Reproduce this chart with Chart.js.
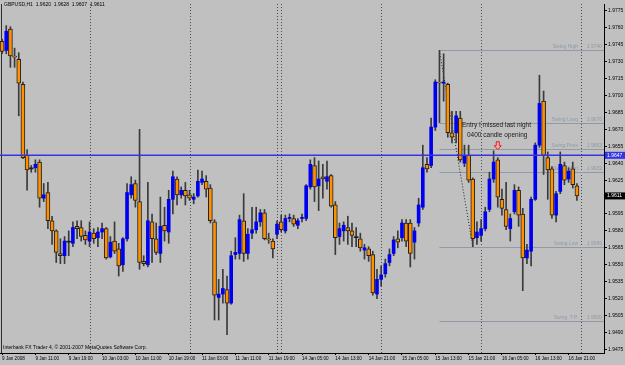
<!DOCTYPE html>
<html>
<head>
<meta charset="utf-8">
<script src="https://cdn.jsdelivr.net/npm/chart.js@4.4.1/dist/chart.umd.min.js"></script>
<style>
html,body{margin:0;padding:0;background:#c0c0c0;}
canvas{display:block;background:#c0c0c0;}
</style>
</head>
<body>
<canvas id="c" width="625" height="365"></canvas>
<script>
// ---- data (GBPUSD H1, 9 Jan 2008 03:00 -> 16 Jan 2008 23:00) ----
const opens = [1.9748,1.9740,1.9759,1.9735,1.9732,1.9710,1.9647,1.9635,1.9636,1.9641,
1.9609,1.9614,1.9589,1.9580,1.9560,1.9558,1.9570,1.9569,1.9584,1.9583,
1.9576,1.9571,1.9578,1.9574,1.9579,1.9582,1.9557,1.9571,1.9564,1.9550,
1.9573,1.9612,1.9622,1.9606,1.9553,1.9550,1.9588,1.9573,1.9560,1.9585,
1.9579,1.9608,1.9626,1.9612,1.9616,1.9612,1.9608,1.9611,1.9623,1.9624,
1.9618,1.9588,1.9521,1.9524,1.9528,1.9516,1.9559,1.9560,1.9589,1.9560,
1.9578,1.9581,1.9588,1.9596,1.9573,1.9571,1.9577,1.9588,1.9580,1.9591,
1.9591,1.9585,1.9591,1.9591,1.9619,1.9638,1.9620,1.9628,1.9624,1.9629,
1.9603,1.9575,1.9580,1.9583,1.9580,1.9574,1.9573,1.9563,1.9564,1.9559,
1.9524,1.9537,1.9542,1.9552,1.9560,1.9573,1.9574,1.9587,1.9587,1.9570,
1.9587,1.9601,1.9639,1.9638,1.9672,1.9712,1.9711,1.9710,1.9667,1.9667,
1.9680,1.9640,1.9647,1.9626,1.9574,1.9576,1.9582,1.9599,1.9626,1.9643,
1.9608,1.9599,1.9582,1.9597,1.9616,1.9595,1.9556,1.9562,1.9608,1.9656,
1.9695,1.9645,1.9635,1.9594,1.9615,1.9638,1.9626,1.9635,1.9620];
const highs = [1.9750,1.9762,1.9761,1.9742,1.9738,1.9712,1.9652,1.9638,1.9643,1.9643,
1.9622,1.9623,1.9593,1.9581,1.9573,1.9575,1.9580,1.9588,1.9589,1.9589,
1.9580,1.9588,1.9582,1.9583,1.9587,1.9583,1.9575,1.9588,1.9569,1.9574,
1.9622,1.9628,1.9625,1.9670,1.9558,1.9623,1.9595,1.9587,1.9610,1.9601,
1.9616,1.9633,1.9628,1.9619,1.9623,1.9616,1.9613,1.9634,1.9633,1.9629,
1.9621,1.9590,1.9537,1.9546,1.9540,1.9562,1.9574,1.9594,1.9613,1.9582,
1.9601,1.9601,1.9599,1.9599,1.9578,1.9573,1.9589,1.9594,1.9594,1.9595,
1.9594,1.9591,1.9595,1.9621,1.9643,1.9645,1.9642,1.9639,1.9642,1.9630,
1.9606,1.9587,1.9588,1.9593,1.9587,1.9583,1.9578,1.9568,1.9566,1.9562,
1.9546,1.9549,1.9555,1.9564,1.9575,1.9580,1.9590,1.9590,1.9590,1.9583,
1.9609,1.9656,1.9645,1.9680,1.9714,1.9740,1.9737,1.9711,1.9686,1.9686,
1.9686,1.9656,1.9656,1.9627,1.9588,1.9590,1.9601,1.9632,1.9651,1.9645,
1.9617,1.9623,1.9595,1.9621,1.9619,1.9600,1.9568,1.9610,1.9658,1.9718,
1.9704,1.9650,1.9637,1.9615,1.9650,1.9641,1.9636,1.9641,1.9622];
const lows = [1.9737,1.9737,1.9725,1.9725,1.9682,1.9644,1.9616,1.9632,1.9632,1.9601,
1.9606,1.9582,1.9568,1.9552,1.9551,1.9551,1.9558,1.9566,1.9573,1.9571,
1.9568,1.9566,1.9569,1.9566,1.9573,1.9555,1.9556,1.9560,1.9540,1.9544,
1.9571,1.9609,1.9601,1.9546,1.9549,1.9548,1.9552,1.9559,1.9552,1.9571,
1.9569,1.9595,1.9603,1.9609,1.9603,1.9607,1.9604,1.9610,1.9621,1.9610,
1.9587,1.9501,1.9501,1.9516,1.9488,1.9515,1.9555,1.9555,1.9553,1.9555,
1.9573,1.9578,1.9584,1.9572,1.9569,1.9556,1.9573,1.9579,1.9578,1.9588,
1.9584,1.9582,1.9588,1.9589,1.9617,1.9606,1.9598,1.9609,1.9617,1.9601,
1.9559,1.9568,1.9571,1.9568,1.9566,1.9566,1.9562,1.9555,1.9553,1.9523,
1.9520,1.9531,1.9539,1.9549,1.9558,1.9565,1.9571,1.9566,1.9548,1.9555,
1.9584,1.9599,1.9632,1.9636,1.9669,1.9676,1.9695,1.9663,1.9658,1.9658,
1.9641,1.9637,1.9623,1.9566,1.9568,1.9571,1.9580,1.9597,1.9623,1.9601,
1.9594,1.9581,1.9571,1.9595,1.9584,1.9527,1.9551,1.9549,1.9607,1.9654,
1.9630,1.9608,1.9591,1.9588,1.9613,1.9621,1.9623,1.9618,1.9607];
const closes = [1.9739,1.9757,1.9735,1.9734,1.9711,1.9645,1.9634,1.9635,1.9639,1.9609,
1.9612,1.9589,1.9580,1.9561,1.9558,1.9571,1.9570,1.9583,1.9582,1.9575,
1.9572,1.9579,1.9573,1.9579,1.9582,1.9556,1.9570,1.9562,1.9549,1.9573,
1.9614,1.9621,1.9607,1.9552,1.9551,1.9589,1.9573,1.9561,1.9584,1.9580,
1.9608,1.9628,1.9612,1.9616,1.9611,1.9609,1.9610,1.9624,1.9626,1.9617,
1.9589,1.9523,1.9524,1.9529,1.9516,1.9558,1.9561,1.9590,1.9560,1.9577,
1.9581,1.9588,1.9596,1.9573,1.9572,1.9564,1.9586,1.9581,1.9591,1.9592,
1.9586,1.9589,1.9592,1.9620,1.9639,1.9619,1.9626,1.9626,1.9628,1.9602,
1.9574,1.9582,1.9585,1.9580,1.9576,1.9574,1.9565,1.9565,1.9558,1.9525,
1.9537,1.9541,1.9551,1.9559,1.9572,1.9570,1.9587,1.9571,1.9560,1.9580,
1.9603,1.9636,1.9635,1.9672,1.9712,1.9711,1.9712,1.9667,1.9663,1.9682,
1.9643,1.9647,1.9625,1.9573,1.9579,1.9582,1.9597,1.9626,1.9641,1.9610,
1.9600,1.9584,1.9591,1.9616,1.9594,1.9556,1.9563,1.9608,1.9656,1.9693,
1.9647,1.9634,1.9594,1.9613,1.9639,1.9625,1.9633,1.9621,1.9611];

const timeLabels = ["9 Jan 2008","9 Jan 11:00","9 Jan 19:00","10 Jan 03:00","10 Jan 11:00","10 Jan 19:00",
"11 Jan 03:00","11 Jan 11:00","11 Jan 19:00","14 Jan 05:00","14 Jan 13:00","14 Jan 21:00",
"15 Jan 05:00","15 Jan 13:00","15 Jan 21:00","16 Jan 05:00","16 Jan 13:00","16 Jan 21:00"];
const labelStep = 8;               // one time label every 8 bars
const daySeparators = [21, 45, 66, 67, 91, 115, 139]; // bar index of each new day
const yTicks = [1.9775,1.9760,1.9745,1.9730,1.9715,1.9700,1.9685,1.9670,1.9655,1.9640,1.9625,
1.9610,1.9595,1.9580,1.9565,1.9550,1.9535,1.9520,1.9505,1.9490,1.9475];
const swingNames  = ["Swing High","Swing Long","Swing Price","Swing Mon","Swing Low","Swing  T.P."];
const swingPrices = [1.9740,1.9676,1.9653,1.9632,1.9566,1.9500];
const swingStart = 105;            // bar where swing levels start
const trendFrom = [105, 1.9740], trendTo = [113, 1.9566];
const bidLine = 1.9647;
const lastPrice = 1.9611;
const arrowBar = 119, arrowPrice = 1.9652;
const headerText = "GBPUSD,H1  1.9620  1.9628  1.9607  1.9611";
const footerText = "Interbank FX Trader 4, \u00a9 2001-2007 MetaQuotes Software Corp.";
const noteLines = ["Entry I missed last night", "0400 candle opening"];
const totalSlots = 145;

// ---- derived datasets ----
const wicks = lows.map((l, i) => [l, highs[i]]);
const upBodies = opens.map((o, i) => closes[i] > o ? [o, closes[i]] : null);
const downBodies = opens.map((o, i) => closes[i] < o ? [o, closes[i]] : null);
const flatBodies = opens.map((o, i) => closes[i] === o ? [o, o] : null);
const slots = Array.from({length: totalSlots}, (_, i) => i);

const fontFam = "'Liberation Sans', Arial, sans-serif";

const overlay = {
  id: 'overlay',
  beforeDatasetsDraw(chart) {
    const {ctx, chartArea: a, scales: {x, y}} = chart;
    ctx.save();
    ctx.strokeStyle = '#303030'; ctx.lineWidth = 1;
    ctx.beginPath(); ctx.moveTo(1.5, a.top); ctx.lineTo(1.5, a.bottom); ctx.stroke();
    ctx.strokeStyle = '#4a4a4a'; ctx.setLineDash([1, 2]);
    daySeparators.forEach(i => {
      const px = Math.round(x.getPixelForValue(i)) + 0.5;
      ctx.beginPath(); ctx.moveTo(px, a.top); ctx.lineTo(px, a.bottom); ctx.stroke();
    });
    ctx.setLineDash([]);
    ctx.strokeStyle = '#8f9aa6'; ctx.fillStyle = '#8f9aa6';
    ctx.font = "5px " + fontFam; ctx.textBaseline = 'bottom';
    const sx = x.getPixelForValue(swingStart);
    swingPrices.forEach((p, k) => {
      const py = Math.round(y.getPixelForValue(p)) + 0.5;
      ctx.beginPath(); ctx.moveTo(sx, py); ctx.lineTo(a.right, py); ctx.stroke();
      ctx.textAlign = 'right';
      ctx.fillText(swingNames[k], a.right - 26, py - 1);
      ctx.fillText(p.toFixed(4), a.right - 2, py - 1);
    });
    ctx.strokeStyle = '#202020'; ctx.setLineDash([1, 2]);
    ctx.beginPath();
    ctx.moveTo(x.getPixelForValue(trendFrom[0]), y.getPixelForValue(trendFrom[1]));
    ctx.lineTo(x.getPixelForValue(trendTo[0]), y.getPixelForValue(trendTo[1]));
    ctx.stroke();
    ctx.restore();
  },
  afterDatasetsDraw(chart) {
    const {ctx, chartArea: a, scales: {x, y}} = chart;
    ctx.save();
    const by = y.getPixelForValue(bidLine);
    ctx.strokeStyle = '#3434e6'; ctx.lineWidth = 1.6;
    ctx.beginPath(); ctx.moveTo(a.left, by); ctx.lineTo(a.right, by); ctx.stroke();
    ctx.font = "5px " + fontFam; ctx.textBaseline = 'middle'; ctx.textAlign = 'left';
    ctx.fillStyle = '#3434e6'; ctx.fillRect(a.right + 1, by - 3.5, 20, 7);
    ctx.fillStyle = '#ffffff'; ctx.fillText(bidLine.toFixed(4), a.right + 3, by);
    const ly = y.getPixelForValue(lastPrice);
    ctx.fillStyle = '#000000'; ctx.fillRect(a.right + 1, ly - 3.5, 20, 7);
    ctx.fillStyle = '#ffffff'; ctx.fillText(lastPrice.toFixed(4), a.right + 3, ly);
    ctx.fillStyle = '#202020'; ctx.font = "6.5px " + fontFam; ctx.textAlign = 'left';
    ctx.fillText(noteLines[0], 462, 125);
    ctx.fillText(noteLines[1], 467, 135);
    const ax = x.getPixelForValue(arrowBar), ay = y.getPixelForValue(arrowPrice);
    ctx.strokeStyle = '#e02020'; ctx.lineWidth = 1; ctx.fillStyle = '#f0b0b0';
    ctx.beginPath();
    ctx.moveTo(ax - 1.5, ay - 8); ctx.lineTo(ax + 1.5, ay - 8); ctx.lineTo(ax + 1.5, ay - 4);
    ctx.lineTo(ax + 3.5, ay - 4); ctx.lineTo(ax, ay); ctx.lineTo(ax - 3.5, ay - 4);
    ctx.lineTo(ax - 1.5, ay - 4); ctx.closePath(); ctx.fill(); ctx.stroke();
    ctx.fillStyle = '#000000'; ctx.font = "5px " + fontFam; ctx.textBaseline = 'middle';
    ctx.fillText(headerText, 4, 5);
    ctx.fillText(footerText, 3, 348);
    ctx.restore();
  }
};

new Chart(document.getElementById('c'), {
  type: 'bar',
  data: {
    labels: slots,
    datasets: [
      {data: upBodies, backgroundColor: '#0000f0', borderWidth: 0, barThickness: 3, grouped: false, minBarLength: 1},
      {data: downBodies, backgroundColor: '#ff9000', borderColor: '#202020', borderWidth: 1, borderSkipped: false, barThickness: 4, grouped: false, minBarLength: 1},
      {data: flatBodies, backgroundColor: '#202020', borderWidth: 0, barThickness: 4, grouped: false, minBarLength: 1},
      {data: wicks, backgroundColor: '#3a3a3a', borderWidth: 0, barThickness: 1, grouped: false}
    ]
  },
  options: {
    responsive: false, animation: false, devicePixelRatio: 1,
    layout: {padding: 0},
    plugins: {legend: {display: false}, tooltip: {enabled: false}},
    scales: {
      x: {
        type: 'category', offset: true,
        grid: {display: true, drawOnChartArea: false, drawTicks: true, tickLength: 2, color: '#000', offset: false},
        border: {display: true, color: '#000'},
        ticks: {autoSkip: false, maxRotation: 0, minRotation: 0, align: 'start', padding: 1,
                color: '#000', font: {size: 4.6, family: fontFam},
                callback: (v) => timeLabels[v / labelStep]},
        afterBuildTicks: (s) => { s.ticks = s.ticks.filter(t => t.value % labelStep === 0 && t.value / labelStep < timeLabels.length); },
        afterFit: (s) => { s.height = 12; }
      },
      y: {
        position: 'right', min: 1.947176, max: 1.9781135,
        grid: {display: true, drawOnChartArea: false, drawTicks: true, tickLength: 3, color: '#000'},
        border: {display: true, color: '#000'},
        ticks: {color: '#000', padding: 1, font: {size: 5, family: fontFam}, callback: (v) => v.toFixed(4)},
        afterBuildTicks: (s) => { s.ticks = yTicks.map(v => ({value: v})); },
        afterFit: (s) => { s.width = 21; }
      }
    }
  },
  plugins: [overlay]
});
</script>
</body>
</html>
